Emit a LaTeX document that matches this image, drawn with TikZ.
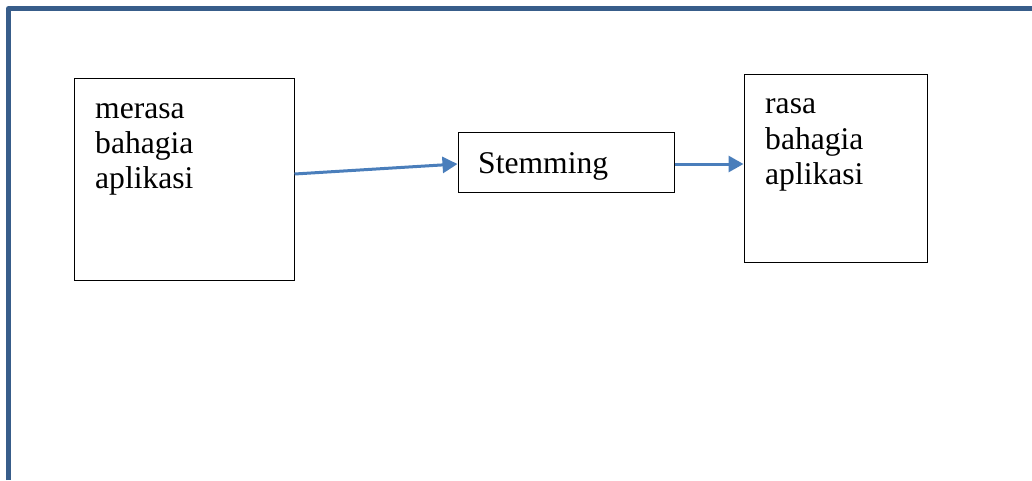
\documentclass[tikz,border=0pt]{standalone}
\usepackage{fontspec}
\setmainfont{Liberation Serif}
\usetikzlibrary{arrows.meta}
\definecolor{framecol}{HTML}{385D8A}
\definecolor{arrowcol}{HTML}{4A7EBB}
\tikzset{
  box/.style={draw=black, line width=1pt, fill=none, inner sep=0pt},
  boxtext/.style={anchor=base west, inner sep=0pt, font=\fontsize{31.6}{35}\selectfont, align=left},
  conn/.style={draw=arrowcol, line width=3pt, -{Triangle[length=15pt,width=16pt]}},
  frameline/.style={draw=framecol, line width=5pt, line join=round}
}
\begin{document}
\begin{tikzpicture}[x=1pt,y=-1pt]
\useasboundingbox (0,0) rectangle (1032,480);
\draw[frameline] (8.5,480) -- (8.5,8.5) -- (1032,8.5);
% boxes
\node[box, minimum width=220pt, minimum height=202pt] (box1) at (184,179) {};
\node[box, minimum width=216pt, minimum height=60pt] (stem) at (566,162) {};
\node[box, minimum width=183pt, minimum height=188pt] (box3) at (835.5,168) {};
% texts
\node[boxtext] (t1a) at (95,118) {merasa};
\node[boxtext] (t1b) at (95,153) {bahagia};
\node[boxtext] (t1c) at (95,188) {aplikasi};
\node[boxtext] (t2) at (478,173) {Stemming};
\node[boxtext] (t3a) at (765,113) {rasa};
\node[boxtext] (t3b) at (765,149) {bahagia};
\node[boxtext] (t3c) at (765,184) {aplikasi};
% connectors
\draw[conn] ([yshift=5pt]box1.east) -- ([yshift=-2pt]stem.west);
\draw[conn] ([yshift=-2pt]stem.east) -- ([yshift=-2pt]stem.east -| box3.west);
\end{tikzpicture}
\end{document}
